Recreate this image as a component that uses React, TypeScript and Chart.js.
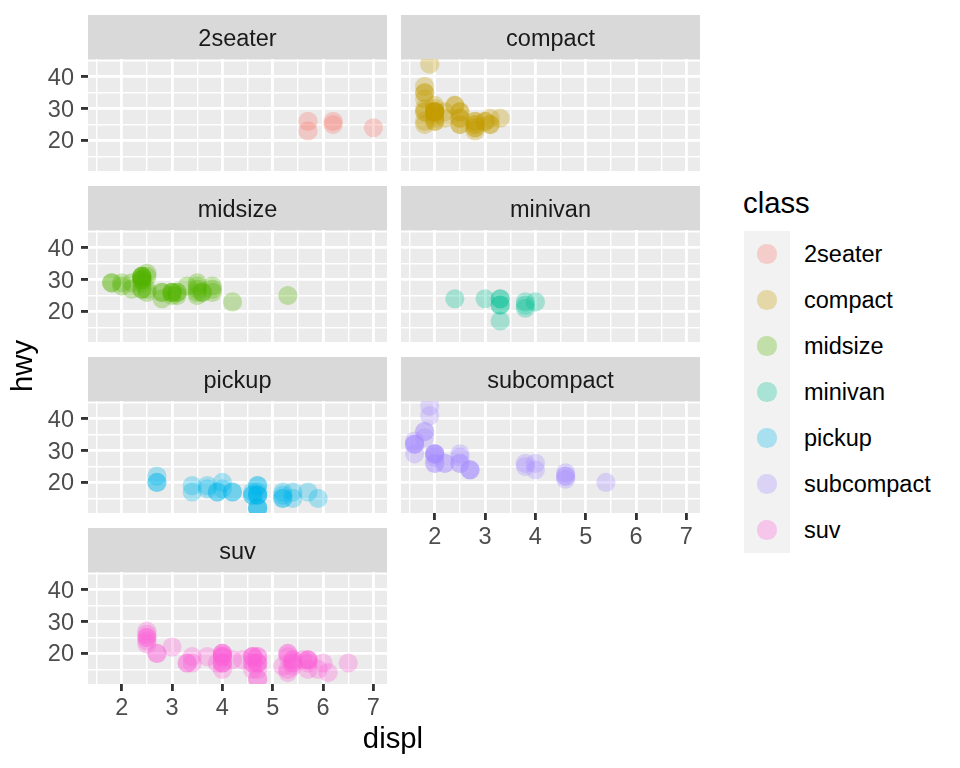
import React, { useEffect, useRef } from 'react';
import { Chart, registerables } from 'chart.js';

Chart.register(...registerables);

// ---------- data (mpg: displ vs hwy, faceted by class) ----------
const CLASSES = ['2seater', 'compact', 'midsize', 'minivan', 'pickup', 'subcompact', 'suv'];
const COLORS = ['#F8766D', '#C49A00', '#53B400', '#00C094', '#00B6EB', '#A58AFF', '#FB61D7'];

const displ2seater = [5.7, 5.7, 6.2, 6.2, 7.0];
const hwy2seater = [26, 23, 26, 25, 24];

const displCompact = [1.8, 1.8, 2.0, 2.0, 2.8, 2.8, 3.1, 1.8, 1.8, 2.0, 2.0, 2.8, 2.8, 3.1, 3.1, 2.5, 2.5, 2.5, 2.5, 2.2, 2.2, 2.4, 2.4, 3.0, 3.0, 3.3, 1.8, 1.8, 1.8, 1.8, 1.8, 2.0, 2.0, 2.0, 2.0, 2.8, 1.9, 2.0, 2.0, 2.0, 2.0, 2.5, 2.5, 2.8, 2.8];
const hwyCompact = [29, 29, 31, 30, 26, 26, 27, 26, 25, 28, 27, 25, 25, 25, 25, 25, 27, 25, 27, 27, 29, 31, 31, 26, 26, 27, 30, 33, 35, 37, 35, 29, 26, 29, 29, 24, 44, 29, 26, 29, 29, 29, 29, 23, 24];

const displMidsize = [2.8, 3.1, 4.2, 2.4, 2.4, 3.1, 3.5, 3.6, 2.4, 2.4, 2.4, 2.4, 2.5, 2.5, 3.3, 2.4, 2.4, 2.5, 2.5, 3.5, 3.5, 3.0, 3.0, 3.5, 3.1, 3.8, 3.8, 3.8, 5.3, 2.2, 2.2, 2.4, 2.4, 3.0, 3.0, 3.5, 1.8, 1.8, 2.0, 2.0, 2.8, 2.8, 3.6];
const hwyMidsize = [24, 25, 23, 27, 30, 26, 29, 26, 30, 31, 30, 31, 26, 27, 28, 29, 27, 31, 32, 27, 26, 26, 25, 25, 26, 26, 27, 28, 25, 29, 27, 31, 31, 26, 26, 28, 29, 29, 28, 29, 26, 26, 26];

const displMinivan = [2.4, 3.0, 3.3, 3.3, 3.3, 3.3, 3.3, 3.8, 3.8, 3.8, 4.0];
const hwyMinivan = [24, 24, 22, 22, 24, 24, 17, 22, 21, 23, 23];

const displPickup = [3.7, 3.7, 3.9, 3.9, 4.7, 4.7, 4.7, 5.2, 5.2, 4.7, 4.7, 4.7, 4.7, 4.7, 4.7, 5.2, 5.2, 5.7, 5.9, 4.2, 4.2, 4.6, 4.6, 4.6, 5.4, 5.4, 2.7, 2.7, 2.7, 3.4, 3.4, 4.0, 4.0];
const hwyPickup = [19, 18, 17, 17, 19, 19, 12, 17, 15, 16, 12, 17, 16, 16, 12, 15, 16, 17, 15, 17, 17, 16, 16, 17, 15, 17, 20, 20, 22, 17, 19, 18, 20];

const displSubcompact = [3.8, 3.8, 4.0, 4.0, 4.6, 4.6, 4.6, 4.6, 5.4, 1.6, 1.6, 1.6, 1.6, 1.6, 1.8, 1.8, 1.8, 2.0, 2.0, 2.0, 2.0, 2.0, 2.7, 2.7, 2.7, 2.2, 2.2, 2.5, 2.5, 1.9, 1.9, 2.0, 2.0, 2.5, 2.5];
const hwySubcompact = [26, 25, 26, 24, 21, 22, 23, 22, 20, 33, 32, 32, 29, 32, 34, 36, 36, 29, 26, 29, 28, 29, 24, 24, 24, 26, 26, 26, 26, 44, 41, 29, 26, 28, 29];

const displSuv = [5.3, 5.3, 5.3, 5.7, 6.0, 5.3, 5.3, 5.7, 6.5, 3.9, 4.7, 4.7, 4.7, 5.2, 5.7, 5.9, 4.6, 5.4, 5.4, 4.0, 4.0, 4.0, 4.0, 4.6, 4.6, 3.0, 3.7, 4.0, 4.7, 4.7, 4.7, 5.7, 6.1, 4.0, 4.2, 4.4, 4.6, 5.4, 5.4, 5.4, 4.0, 4.0, 4.6, 4.6, 3.3, 3.3, 4.0, 5.6, 2.5, 2.5, 2.5, 2.5, 2.5, 2.5, 2.7, 2.7, 3.4, 3.4, 4.0, 4.7, 4.7, 5.7];
const hwySuv = [20, 15, 20, 17, 17, 19, 14, 15, 17, 17, 17, 12, 17, 16, 18, 15, 17, 17, 18, 17, 19, 17, 19, 19, 19, 22, 19, 20, 17, 12, 19, 18, 14, 15, 18, 18, 15, 17, 16, 18, 17, 19, 19, 17, 17, 17, 20, 18, 25, 24, 27, 25, 26, 23, 20, 20, 19, 17, 20, 19, 15, 18];

const DISPL = [displ2seater, displCompact, displMidsize, displMinivan, displPickup, displSubcompact, displSuv];
const HWY = [hwy2seater, hwyCompact, hwyMidsize, hwyMinivan, hwyPickup, hwySubcompact, hwySuv];

const X_MAJOR = [2, 3, 4, 5, 6, 7];
const X_MINOR = [1.5, 2.5, 3.5, 4.5, 5.5, 6.5];
const Y_MAJOR = [20, 30, 40];
const Y_MINOR = [15, 25, 35, 45];
const X_MIN = 1.33, X_MAX = 7.27;
const Y_MIN = 10.4, Y_MAX = 45.6;

// ---------- layout ----------
const FONT = '"Liberation Sans", Arial, Helvetica, sans-serif';
const ROW_TOP = [15, 186, 357, 528];
const COL_LEFT = [0, 401];
const Y_AXIS_W = 88;
const PLOT_W = 299;
const STRIP_H = 44;
const PLOT_H = 112;
const X_AXIS_H = 50;
const STRIP_BASELINE = 31;

function rgba(hex: string, a: number) {
  const n = parseInt(hex.slice(1), 16);
  return `rgba(${(n >> 16) & 255},${(n >> 8) & 255},${n & 255},${a})`;
}

const stripPlugin = {
  id: 'strip',
  beforeDraw(chart: any, _args: any, opts: any) {
    const { ctx, chartArea } = chart;
    ctx.save();
    ctx.fillStyle = '#EBEBEB';
    ctx.fillRect(chartArea.left, chartArea.top, chartArea.right - chartArea.left, chartArea.bottom - chartArea.top);
    ctx.fillStyle = '#D9D9D9';
    ctx.fillRect(chartArea.left, 0, chartArea.right - chartArea.left, STRIP_H);
    ctx.fillStyle = '#1A1A1A';
    ctx.font = `23.5px ${FONT}`;
    ctx.textAlign = 'center';
    ctx.textBaseline = 'alphabetic';
    ctx.fillText(opts.label, (chartArea.left + chartArea.right) / 2, STRIP_BASELINE);
    ctx.restore();
  },
};

function Panel({ idx }: { idx: number }) {
  const ref = useRef<HTMLCanvasElement>(null);
  const col = idx % 2;
  const row = Math.floor(idx / 2);
  const showX = idx === 5 || idx === 6;
  const showY = col === 0;
  const width = (showY ? Y_AXIS_W : 0) + PLOT_W;
  const height = STRIP_H + PLOT_H + (showX ? X_AXIS_H : 0);

  useEffect(() => {
    const canvas = ref.current!;
    const xs = DISPL[idx];
    const ys = HWY[idx];
    const isMajorX = (v: number) => X_MAJOR.includes(v);
    const isMajorY = (v: number) => Y_MAJOR.includes(v);
    const chart = new Chart(canvas, {
      type: 'scatter',
      data: {
        datasets: [
          {
            label: CLASSES[idx],
            data: xs.map((x, i) => ({ x, y: ys[i] })),
            backgroundColor: rgba(COLORS[idx], 0.3),
            borderWidth: 0,
            pointRadius: 9.6,
            pointHoverRadius: 9.6,
            clip: 0,
          } as any,
        ],
      },
      options: {
        animation: false,
        responsive: false,
        devicePixelRatio: 1,
        events: [],
        layout: { autoPadding: false, padding: { top: STRIP_H, left: 0, right: 0, bottom: 0 } },
        plugins: {
          legend: { display: false },
          tooltip: { enabled: false },
          strip: { label: CLASSES[idx] },
        } as any,
        scales: {
          x: {
            type: 'linear',
            position: 'bottom',
            min: X_MIN,
            max: X_MAX,
            afterBuildTicks: (s: any) => {
              s.ticks = [...X_MINOR, ...X_MAJOR].sort((a, b) => a - b).map((v) => ({ value: v }));
            },
            afterFit: (s: any) => {
              s.height = showX ? X_AXIS_H : 0;
              s.paddingLeft = 0;
              s.paddingRight = 0;
              s.paddingTop = 0;
              s.paddingBottom = 0;
            },
            ticks: {
              display: showX,
              autoSkip: false,
              maxRotation: 0,
              padding: 3,
              color: '#4D4D4D',
              font: { size: 23.5, family: FONT },
              callback: (v: any) => (isMajorX(Number(v)) ? String(v) : ''),
            },
            grid: {
              color: '#FFFFFF',
              lineWidth: (c: any) => (c.tick && isMajorX(c.tick.value) ? 2.85 : 1.42),
              drawTicks: showX,
              tickLength: 7,
              tickWidth: 2.85,
              tickColor: (c: any) => (c.tick && isMajorX(c.tick.value) ? '#333333' : 'rgba(0,0,0,0)'),
            },
            border: { display: false },
          },
          y: {
            type: 'linear',
            position: 'left',
            min: Y_MIN,
            max: Y_MAX,
            afterBuildTicks: (s: any) => {
              s.ticks = [...Y_MINOR, ...Y_MAJOR].sort((a, b) => a - b).map((v) => ({ value: v }));
            },
            afterFit: (s: any) => {
              s.width = showY ? Y_AXIS_W : 0;
              s.paddingLeft = 0;
              s.paddingRight = 0;
              s.paddingTop = 0;
              s.paddingBottom = 0;
            },
            ticks: {
              display: showY,
              autoSkip: false,
              padding: 7,
              labelOffset: 1.5,
              color: '#4D4D4D',
              font: { size: 23.5, family: FONT },
              callback: (v: any) => (isMajorY(Number(v)) ? String(v) : ''),
            },
            grid: {
              color: '#FFFFFF',
              lineWidth: (c: any) => (c.tick && isMajorY(c.tick.value) ? 2.85 : 1.42),
              drawTicks: showY,
              tickLength: 7,
              tickWidth: 2.85,
              tickColor: (c: any) => (c.tick && isMajorY(c.tick.value) ? '#333333' : 'rgba(0,0,0,0)'),
            },
            border: { display: false },
          },
        },
      } as any,
      plugins: [stripPlugin],
    });
    return () => chart.destroy();
  }, []);

  return (
    <canvas
      ref={ref}
      width={width}
      height={height}
      style={{ position: 'absolute', left: COL_LEFT[col], top: ROW_TOP[row], width, height }}
    />
  );
}

export default function App() {
  return (
    <div
      style={{
        position: 'absolute',
        left: 0,
        top: 0,
        width: 960,
        height: 768,
        background: '#FFFFFF',
        overflow: 'hidden',
        fontFamily: FONT,
      }}
    >
      {CLASSES.map((_, i) => (
        <Panel key={i} idx={i} />
      ))}

      {/* axis titles */}
      <div
        style={{
          position: 'absolute',
          left: 393 - 100,
          top: 720.5,
          width: 200,
          textAlign: 'center',
          fontSize: 29.3,
          lineHeight: '34px',
          color: '#000',
        }}
      >
        displ
      </div>
      <div
        style={{
          position: 'absolute',
          left: 22 - 100,
          top: 366 - 17,
          width: 200,
          height: 34,
          textAlign: 'center',
          fontSize: 29.3,
          lineHeight: '34px',
          color: '#000',
          transform: 'rotate(-90deg)',
          transformOrigin: '50% 50%',
        }}
      >
        hwy
      </div>

      {/* legend */}
      <div
        style={{
          position: 'absolute',
          left: 743,
          top: 186,
          fontSize: 29.3,
          lineHeight: '34px',
          color: '#000',
        }}
      >
        class
      </div>
      <div
        style={{
          position: 'absolute',
          left: 744,
          top: 231,
          width: 46,
          height: 46 * CLASSES.length,
          background: '#F2F2F2',
        }}
      />
      {CLASSES.map((c, i) => (
        <React.Fragment key={c}>
          <div
            style={{
              position: 'absolute',
              left: 744,
              top: 231 + 46 * i,
              width: 46,
              height: 46,
              display: 'flex',
              alignItems: 'center',
              justifyContent: 'center',
            }}
          >
            <div
              style={{
                width: 19.2,
                height: 19.2,
                borderRadius: '50%',
                background: rgba(COLORS[i], 0.3),
              }}
            />
          </div>
          <div
            style={{
              position: 'absolute',
              left: 804,
              top: 231 + 46 * i,
              height: 46,
              lineHeight: '46px',
              fontSize: 23.5,
              color: '#000',
              whiteSpace: 'nowrap',
            }}
          >
            {c}
          </div>
        </React.Fragment>
      ))}
    </div>
  );
}
